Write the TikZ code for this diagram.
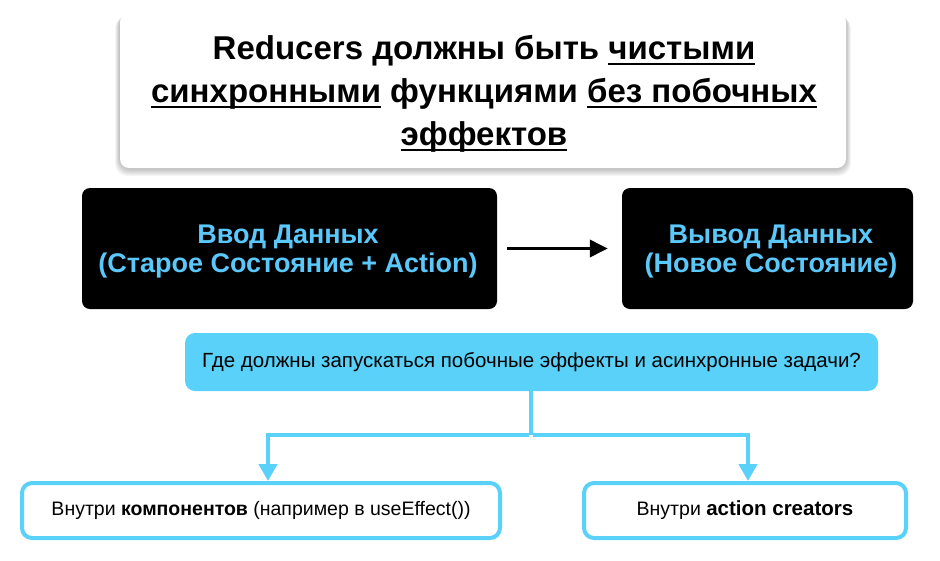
\documentclass[tikz,border=0pt]{standalone}
\usepackage{fontspec}
\setmainfont{Liberation Sans}
\usetikzlibrary{arrows.meta}
\definecolor{cy}{RGB}{90,209,248}
\definecolor{cytext}{RGB}{90,200,250}
\newcommand\myul[1]{\setbox0\hbox{#1}\rlap{\rule[-5pt]{\wd0}{2pt}}\box0\relax}
\tikzset{
  titlebox/.style={fill=white, rounded corners=9pt, minimum width=726pt, minimum height=155pt, inner sep=0pt},
  titletext/.style={inner sep=0pt, font=\fontsize{33}{43}\selectfont\bfseries, align=center},
  blackbox/.style={fill=black, rounded corners=8pt, minimum height=121pt, inner sep=0pt},
  blacktext/.style={inner sep=0pt, text=cytext, font=\fontsize{27}{29.5}\selectfont\bfseries, align=center},
  qbox/.style={fill=cy, rounded corners=10pt, minimum width=693pt, minimum height=58pt, inner sep=0pt,
    font=\fontsize{20.5}{24}\selectfont},
  ansbox/.style={draw=cy, line width=4pt, fill=white, rounded corners=10pt, minimum height=55pt, inner sep=0pt,
    font=\fontsize{19.5}{24}\selectfont},
  cyline/.style={draw=cy, line width=4.5pt},
  cyarrow/.style={cyline, -{Triangle[length=17pt,width=18pt]}},
  blkarrow/.style={line width=3.5pt, -{Triangle[length=18pt,width=17pt]}},
}
\begin{document}
\begin{tikzpicture}[x=1pt,y=-1pt]
\useasboundingbox (0,0) rectangle (940,560);
% soft shadow of title box
\foreach \i in {1,...,8}{
  \fill[black, opacity=0.035, rounded corners=12pt] (120-\i*0.6,13+\i*0.4) rectangle (846+\i*0.6,168+\i*1.0);
}
\node[titlebox] (title) at (483,90.5) {};
\node[titletext] (titletxt) at (484,94) {Reducers должны быть \myul{чистыми}\\
\myul{синхронными} функциями \myul{без побочных}\\
\myul{эффектов}};
\node[blackbox, minimum width=415pt] (in) at (289.5,248.5) {};
\node[blacktext] (intxt) at (288,251.5) {Ввод Данных\\(Старое Состояние + Action)};
\node[blackbox, minimum width=291pt] (out) at (767.5,248.5) {};
\node[blacktext] (outtxt) at (771,251.5) {Вывод Данных\\(Новое Состояние)};
\draw[blkarrow] ([xshift=10pt]in.east) -- ([xshift=-14pt]out.west);
\node[qbox] (q) at (531.5,362) {\raisebox{-3pt}{Где должны запускаться побочные эффекты и асинхронные задачи?}};
\node[ansbox, minimum width=478pt] (a1) at (261,510.5) {\raisebox{-2pt}{Внутри \textbf{компонентов} (например в useEffect())}};
\node[ansbox, minimum width=322pt] (a2) at (745,510.5) {\raisebox{-2pt}{Внутри \textbf{\fontsize{20.5}{24}\selectfont action creators}}};
\coordinate (j) at (531,435);
\draw[cyline] (q.south -| j) -- (j);
\draw[cyarrow] ([xshift=-2pt]j) -| ([xshift=7pt]a1.north);
\draw[cyarrow] ([xshift=2pt]j) -| ([xshift=3pt]a2.north);
\end{tikzpicture}
\end{document}
